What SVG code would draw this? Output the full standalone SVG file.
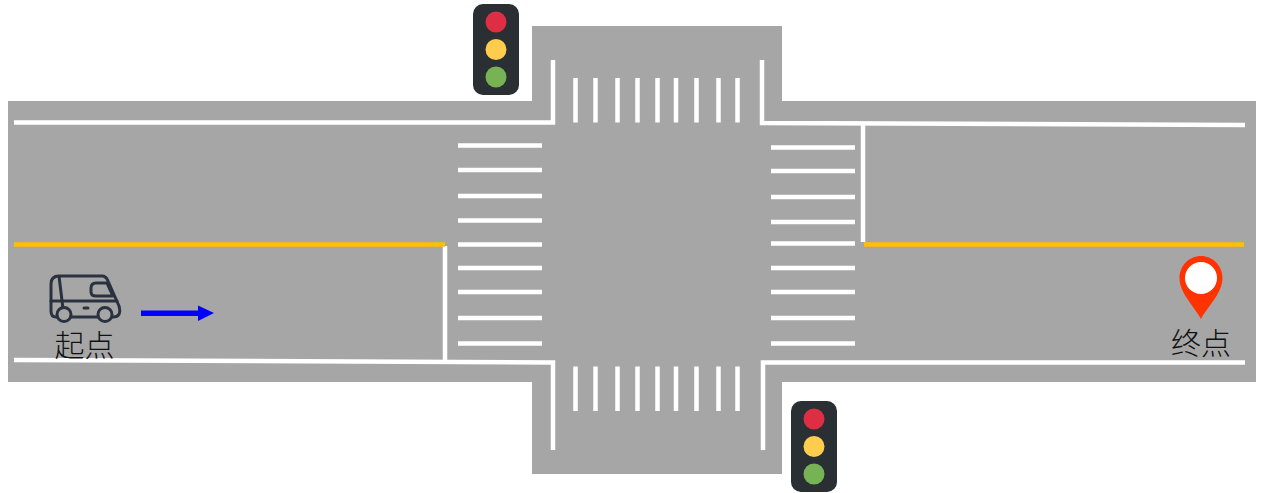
<svg xmlns="http://www.w3.org/2000/svg" width="1264" height="493" viewBox="0 0 1264 493">
<style>
.w{stroke:#fff;stroke-width:4.500;fill:none}
.z{stroke:#fff;stroke-width:4.500;fill:none}
.y{stroke:#ffc000;stroke-width:4.500;fill:none}
.van{stroke:#2a3240;stroke-width:3;fill:none;stroke-linejoin:round;stroke-linecap:round}
.wheel{stroke:#2a3240;stroke-width:3;fill:#a6a6a6}
.t{font-family:"Noto Sans CJK SC","Liberation Sans",sans-serif;font-size:30px;font-weight:300;fill:#111}
</style>
<defs>
<g id="light"><rect x="0" y="0" width="46" height="91" rx="10" fill="#292f33"/><circle cx="23" cy="18" r="10.500" fill="#dd2e44"/><circle cx="23" cy="45.500" r="10.500" fill="#ffcc4d"/><circle cx="23" cy="73" r="10.500" fill="#77b255"/></g>
</defs>
<g id="road">
<path d="M8 101H532V26H782V101H1256V382H782V474H532V382H8Z" fill="#a6a6a6"/>
</g>
<g id="connectors">
<path class="w" d="M14 122.500H553V60M762 60V123L1245 125"/>
<path class="w" d="M14 360L553 362.500V450M763 450V362.500H1245"/>
<path class="w" d="M863 124V242M445 246V360"/>
<path class="y" d="M14 244.500H445M864 244.500H1244"/>
<path class="z" d="M575.500 78V122.500M595.500 78V122.500M617.500 78V122.500M637.500 78V122.500M657.500 78V122.500M676 78V122.500M696.500 78V122.500M718.500 78V122.500M737.500 78V122.500"/>
<path class="z" d="M575.500 366.500V411M595.500 366.500V411M617.500 366.500V411M637.500 366.500V411M657.500 366.500V411M676 366.500V411M696.500 366.500V411M718.500 366.500V411M737.500 366.500V411"/>
<path class="z" d="M458 145.500H542M458 170H542M458 196H542M458 220.500H542M458 244.500H542M458 268H542M458 292H542M458 318H542M458 343.500H542"/>
<path class="z" d="M771 147.500H855M771 171H855M771 197H855M771 222H855M771 243.500H855M771 268H855M771 292H855M771 318H855M771 343.500H855"/>
<path d="M141 310.500H198V305.500L214 313L198 321V316H141Z" fill="#0000ff"/>
</g>
<g id="light-top"><use href="#light" x="473" y="4"/></g>
<g id="light-bottom"><use href="#light" x="791" y="401"/></g>
<g id="van">
<path class="van" d="M59 276H102Q106 276 108 281L119 306Q122 317 113 317H105M105 317H64M64 317H56Q51 317 51 311V284Q51 276 59 276Z"/>
<path class="van" d="M51 301H117M96 283H107L113 296H96Q91 296 91 292V288Q91 283 96 283ZM84 308H88"/>
<circle class="wheel" cx="64" cy="314.500" r="7"/><circle class="wheel" cx="105" cy="314.500" r="7"/>
</g>
<text class="t" x="54.500" y="356">起点</text>
<g id="pin">
<path d="M1201 256C1189 256 1179.500 266 1179.500 278C1179.500 293 1194 306 1201 319C1208 306 1222.500 293 1222.500 278C1222.500 266 1213 256 1201 256Z" fill="#ff3300"/>
<circle cx="1201" cy="278" r="16" fill="#fff"/>
</g>
<text class="t" x="1171" y="354">终点</text>
</svg>
